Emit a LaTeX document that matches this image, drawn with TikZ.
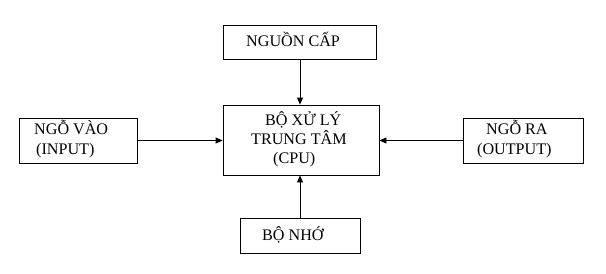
\documentclass[tikz,border=0pt]{standalone}
\usepackage{fontspec}
\setmainfont{Liberation Serif}
\usetikzlibrary{arrows.meta}
\begin{document}
\begin{tikzpicture}[x=1bp,y=-1bp,
  blk/.style={draw,line width=0.8bp,inner sep=0pt},
  txt/.style={anchor=base west,inner sep=0pt,font=\fontsize{16.2}{19}\selectfont},
  arr/.style={line width=0.8bp,-{Triangle[length=7bp,width=6bp]}}]
\useasboundingbox (0,0) rectangle (606,273);
\node[blk,minimum width=153bp,minimum height=34bp] (src) at (299.5,42) {};
\node[blk,minimum width=156bp,minimum height=70bp] (cpu) at (301,140) {};
\node[blk,minimum width=118bp,minimum height=45bp] (in) at (78,140.5) {};
\node[blk,minimum width=120bp,minimum height=45bp] (out) at (523,140.5) {};
\node[blk,minimum width=120bp,minimum height=35bp] (mem) at (300,235.5) {};
\node[txt] (t1) at (246,46) {NGUỒN CẤP};
\node[txt] (t2) at (265,125) {BỘ XỬ LÝ};
\node[txt] (t3) at (251,144) {TRUNG TÂM};
\node[txt] (t4) at (273,163) {(CPU)};
\node[txt] (t5) at (34,134) {NGỖ VÀO};
\node[txt] (t6) at (36,154) {(INPUT)};
\node[txt] (t7) at (486,134) {NGỖ RA};
\node[txt] (t8) at (477,154) {(OUTPUT)};
\node[txt] (t9) at (262,240) {BỘ NHỚ};
\draw[arr] (src.south -| 300,0) -- (cpu.north -| 300,0);
\draw[arr] (mem.north -| 300,0) -- (cpu.south -| 300,0);
\draw[arr] (in.east) -- (cpu.west |- in.east);
\draw[arr] (out.west) -- (cpu.east |- out.west);
\end{tikzpicture}
\end{document}
